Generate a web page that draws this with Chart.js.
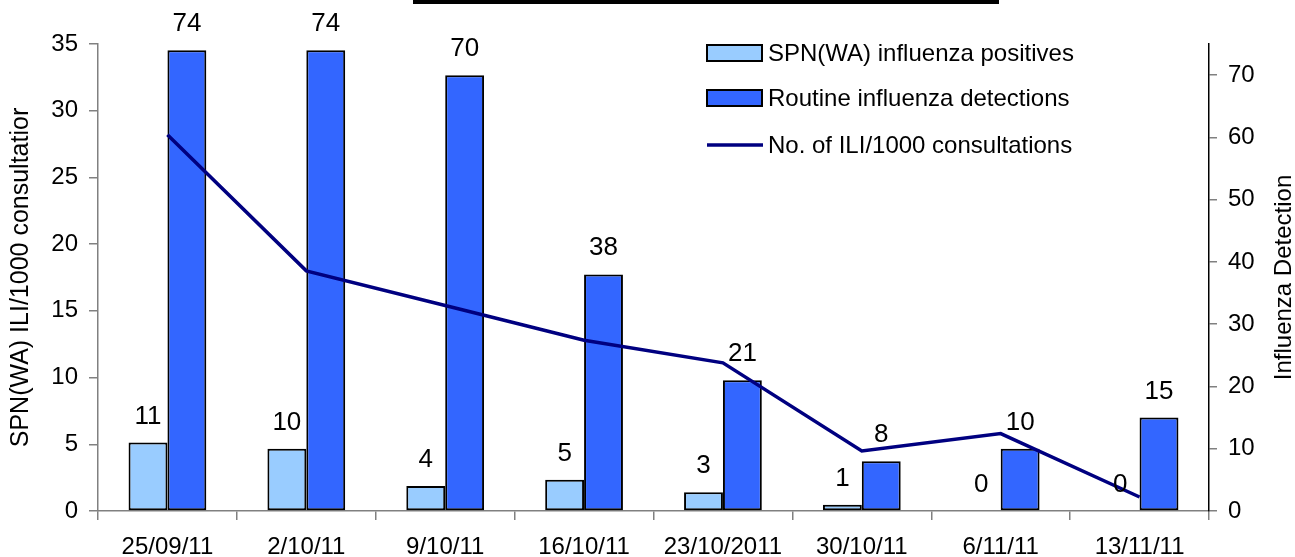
<!DOCTYPE html>
<html lang="en">
<head>
<meta charset="UTF-8">
<title>SPN(WA) influenza surveillance</title>
<script src="https://cdn.jsdelivr.net/npm/chart.js"></script>
<style>
  body { margin: 0; background: #fff; }
  #wrap { width: 1295px; height: 557px; }
</style>
</head>
<body>
<div id="wrap"><canvas id="fluChart"></canvas></div>
<script>
// week starting dates
const weeks = ['25/09/11', '2/10/11', '9/10/11', '16/10/11', '23/10/2011', '30/10/11', '6/11/11', '13/11/11'];

// right axis (counts)
const spnPositives = [11, 10, 4, 5, 3, 1, 0, 0];
const routineDetections = [74, 74, 70, 38, 21, 8, 10, 15];

// left axis (rate per 1000 consultations)
const iliRate = [28.2, 18.0, 15.4, 12.8, 11.1, 4.5, 5.8, 1.05];

const leftMax = 35, leftStep = 5;
const rightMax = 75, rightStep = 10;
const leftTitle = 'SPN(WA) ILI/1000 consultatior';
const rightTitle = 'Influenza Detection';

const FONT = '"Liberation Sans", Arial, sans-serif';
Chart.defaults.font.family = FONT;
Chart.defaults.color = '#000';

// value labels above each bar
const barLabels = {
    id: 'barLabels',
    afterDatasetsDraw(chart) {
        const ctx = chart.ctx;
        ctx.save();
        ctx.font = '26px ' + FONT;
        ctx.fillStyle = '#000';
        ctx.textAlign = 'center';
        ctx.textBaseline = 'alphabetic';
        chart.data.datasets.forEach((ds, i) => {
            if (ds.type !== 'bar') return;
            chart.getDatasetMeta(i).data.forEach((bar, j) => {
                ctx.fillText(String(ds.data[j]), bar.x, bar.y - 19);
            });
        });
        ctx.restore();
    }
};

// legend sits inside the plot, top right
const innerLegend = {
    id: 'innerLegend',
    afterDraw(chart) {
        const ctx = chart.ctx;
        const rows = [53, 98, 145];
        const x0 = 707, boxW = 55, boxH = 16;
        ctx.save();
        ctx.font = '24px ' + FONT;
        ctx.textBaseline = 'middle';
        ctx.textAlign = 'left';
        chart.data.datasets.forEach((ds, i) => {
            const y = rows[i];
            if (ds.type === 'bar') {
                ctx.fillStyle = ds.backgroundColor;
                ctx.fillRect(x0, y - boxH / 2, boxW, boxH);
                ctx.strokeStyle = '#000';
                ctx.lineWidth = 2;
                ctx.strokeRect(x0, y - boxH / 2, boxW, boxH);
            } else {
                ctx.strokeStyle = ds.borderColor;
                ctx.lineWidth = 3.5;
                ctx.beginPath();
                ctx.moveTo(x0, y);
                ctx.lineTo(x0 + boxW + 1, y);
                ctx.stroke();
            }
            ctx.fillStyle = '#000';
            ctx.fillText(ds.label, x0 + boxW + 6, y + 1);
        });
        ctx.restore();
    }
};

// right axis title reads bottom-to-top, like the left one
const rightAxisTitle = {
    id: 'rightAxisTitle',
    afterDraw(chart) {
        const ctx = chart.ctx;
        const area = chart.chartArea;
        ctx.save();
        ctx.translate(1284, (area.top + area.bottom) / 2);
        ctx.rotate(-Math.PI / 2);
        ctx.font = '24px ' + FONT;
        ctx.fillStyle = '#000';
        ctx.textAlign = 'center';
        ctx.textBaseline = 'middle';
        ctx.fillText(rightTitle, 0, 0);
        ctx.restore();
    }
};

// remains of the title box edge along the top
const topRule = {
    id: 'topRule',
    beforeDraw(chart) {
        const ctx = chart.ctx;
        ctx.save();
        ctx.fillStyle = '#fff';
        ctx.fillRect(0, 0, chart.width, chart.height);
        ctx.fillStyle = '#000';
        ctx.fillRect(413, 0, 586, 4);
        ctx.restore();
    }
};

const ctx = document.getElementById('fluChart').getContext('2d');
new Chart(ctx, {
    type: 'bar',
    data: {
        labels: weeks,
        datasets: [
            {
                type: 'bar',
                label: 'SPN(WA) influenza positives',
                data: spnPositives,
                yAxisID: 'y1',
                backgroundColor: '#99CCFF',
                borderColor: '#000',
                borderWidth: 2,
                borderSkipped: false,
                categoryPercentage: 0.56,
                barPercentage: 1.0,
                order: 2
            },
            {
                type: 'bar',
                label: 'Routine influenza detections',
                data: routineDetections,
                yAxisID: 'y1',
                backgroundColor: '#3366FF',
                borderColor: '#000',
                borderWidth: 2,
                borderSkipped: false,
                categoryPercentage: 0.56,
                barPercentage: 1.0,
                order: 2
            },
            {
                type: 'line',
                label: 'No. of ILI/1000 consultations',
                data: iliRate,
                yAxisID: 'y',
                borderColor: '#000080',
                borderWidth: 3.5,
                pointRadius: 0,
                tension: 0,
                fill: false,
                order: 1
            }
        ]
    },
    options: {
        responsive: true,
        maintainAspectRatio: false,
        animation: false,
        devicePixelRatio: 1,
        layout: { padding: { top: 44, left: 0, right: 0, bottom: 0 } },
        plugins: {
            legend: { display: false },
            tooltip: { enabled: false }
        },
        scales: {
            x: {
                grid: { display: true, drawOnChartArea: false, offset: true, tickLength: 9, color: '#808080', lineWidth: 1.5 },
                border: { color: '#808080', width: 1.5 },
                ticks: { color: '#000', font: { size: 24 }, padding: 13, maxRotation: 0, autoSkip: false },
                afterFit(scale) { scale.height = 46; }
            },
            y: {
                position: 'left',
                min: 0,
                max: leftMax,
                ticks: { stepSize: leftStep, color: '#000', font: { size: 24 }, padding: 11 },
                grid: { drawOnChartArea: false, tickLength: 9, color: '#808080', lineWidth: 1.5 },
                border: { color: '#808080', width: 1.5 },
                title: {
                    display: true,
                    text: leftTitle,
                    color: '#000',
                    font: { size: 25, lineHeight: 1 },
                    padding: { top: 9, bottom: 0 }
                },
                afterFit(scale) { scale.width = 98; }
            },
            y1: {
                position: 'right',
                min: 0,
                max: rightMax,
                ticks: { stepSize: rightStep, includeBounds: false, color: '#000', font: { size: 24 }, padding: 11 },
                grid: { drawOnChartArea: false, tickLength: 8, color: '#808080', lineWidth: 1.5 },
                border: { color: '#000', width: 1.5 },
                afterFit(scale) { scale.width = 86; }
            }
        }
    },
    plugins: [topRule, barLabels, innerLegend, rightAxisTitle]
});
</script>
</body>
</html>
